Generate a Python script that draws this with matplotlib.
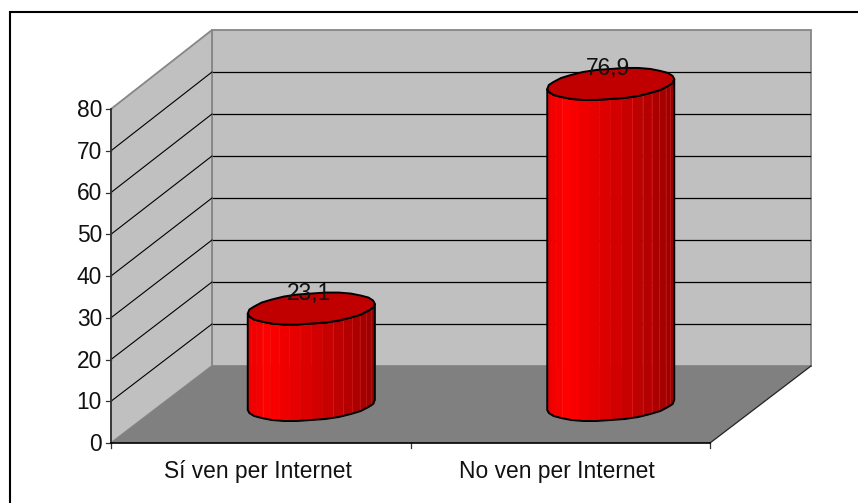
import numpy as np
import matplotlib
matplotlib.use("Agg")
import matplotlib.pyplot as plt
from matplotlib.patches import Polygon

categories = ["Sí ven per Internet", "No ven per Internet"]
values = [23.1, 76.9]
value_labels = ["23,1", "76,9"]
y_ticks = [0, 10, 20, 30, 40, 50, 60, 70, 80]

W, H = 858, 503
plt.rcParams["font.family"] = ["Liberation Sans"]
fig = plt.figure(figsize=(W / 100, H / 100), dpi=100)
ax = fig.add_axes([0, 0, 1, 1])
ax.set_xlim(0, W)
ax.set_ylim(H, 0)
ax.axis("off")

# projection set-up
X0, Y0 = 111, 443
FW = 599           # front width
DX, DY = 101, -77  # depth offset
UNIT = 334 / 80    # px per value unit, front edge
UNIT_B = 336 / 80  # px per value unit, back wall
FS = 16.4


def front(cat_pos, v):
    return X0 + FW * cat_pos, Y0 - UNIT * v


def back(cat_pos, v):
    return X0 + FW * cat_pos + DX, Y0 + DY - UNIT_B * v


# outer frame: only its left and top edges fall inside the picture
ax.plot([9.5, 9.5, W], [H, 11.5, 11.5], color="black", lw=1.5, zorder=0,
        solid_joinstyle="miter")

ymax = y_ticks[-1]
GREY = "#868686"
# walls
ax.add_patch(Polygon([back(0, 0), back(1, 0), back(1, ymax), back(0, ymax)],
                     fc="#c0c0c0", ec=GREY, lw=1.3, zorder=1))
ax.add_patch(Polygon([front(0, 0), back(0, 0), back(0, ymax), front(0, ymax)],
                     fc="#c0c0c0", ec=GREY, lw=1.3, zorder=1))

# gridlines
for t in y_ticks[1:-1]:
    a, b, c = front(0, t), back(0, t), back(1, t)
    ax.plot([a[0], b[0]], [a[1], b[1]], color="black", lw=0.8, zorder=1.5)
    ax.plot([b[0] + 1, c[0] - 1], [b[1], c[1]], color="black", lw=0.9, zorder=1.5)

# floor, drawn over the lower wall edges
ax.add_patch(Polygon([front(0, 0), front(1, 0), back(1, 0), back(0, 0)],
                     fc="#808080", ec="none", zorder=2))

# axes
ax.plot([X0, X0], [Y0, front(0, ymax)[1]], color="#333333", lw=1.3, zorder=4)
ax.plot([X0, X0 + FW], [Y0, Y0], color="black", lw=1.2, zorder=6)
ax.plot([X0 + FW, X0 + FW + DX], [Y0, Y0 + DY], color="#222222", lw=0.9, zorder=4)
for t in y_ticks:
    x, y = front(0, t)
    ax.plot([x - 5, x], [y, y], color="#333333", lw=0.9, zorder=4)
    ax.text(x - 9, y + 1.5, str(t), ha="right", va="center", fontsize=FS, color="#111111", zorder=5)
for p in [0, 0.5, 1]:
    x, y = front(p, 0)
    ax.plot([x, x], [y, y + 5], color="#333333", lw=0.9, zorder=4)

# cylinders
A, B, S = 63.5, 15.2, 5.0  # ellipse half axes and tilt
N = 36
theta = np.linspace(0, 2 * np.pi, N + 1)
fine = np.linspace(0, 2 * np.pi, 29)


def shade(f):
    stops_x = [0.0, 0.15, 0.5, 0.8, 1.0]
    stops_r = [235, 255, 215, 178, 150]
    return (np.interp(f, stops_x, stops_r) / 255, 0, 0)


for i, (cat, v) in enumerate(zip(categories, values)):
    cx = X0 + FW * (i + 0.5) / 2 + 50.5
    cy_bottom = Y0 - 38
    cy_top = cy_bottom - UNIT * v
    xs = cx + A * np.cos(theta)
    off = B * np.sin(theta) - S * np.cos(theta)  # positive = downward
    for k in range(N):
        if np.sin(theta[k]) + np.sin(theta[k + 1]) < 0:
            continue
        f = (np.cos(theta[k]) + np.cos(theta[k + 1]) + 2) / 4
        col = shade(f)
        ax.add_patch(Polygon([(xs[k], cy_top + off[k]), (xs[k + 1], cy_top + off[k + 1]),
                              (xs[k + 1], cy_bottom + off[k + 1]), (xs[k], cy_bottom + off[k])],
                             fc=col, ec=col, lw=0.3, zorder=7))
        if f > 0.6 or k % 7 == 0:
            r = min(1, col[0] + 0.12)
            ax.plot([xs[k], xs[k]], [cy_top + off[k], cy_bottom + off[k]],
                    color=(r, 0.1, 0.1), lw=0.5, zorder=7.5)
    # outline with a coarser, slightly faceted ring
    ox = cx + A * np.cos(fine)
    oy = np.round(B * np.sin(fine) - S * np.cos(fine))
    half = fine <= np.pi + 1e-9
    fx = np.r_[ox[half], ox[half][::-1]]
    fy = np.r_[cy_bottom + oy[half], cy_top + oy[half][::-1]]
    ax.add_patch(Polygon(np.c_[fx, fy], fc="none", ec="black", lw=1.4, zorder=8))
    ax.add_patch(Polygon(np.c_[ox, cy_top + oy], fc="#c00000", ec="black", lw=1.4, zorder=9))
    ax.text(cx - 2.5, cy_top - 15, value_labels[i], ha="center", va="center",
            fontsize=FS, color="#111111", zorder=10)
    lx, _ = front((i + 0.5) / 2, 0)
    ax.text(lx - 3, 471.5, cat, ha="center", va="center", fontsize=FS, color="#111111", zorder=5)

fig.savefig("out.png", dpi=100)
